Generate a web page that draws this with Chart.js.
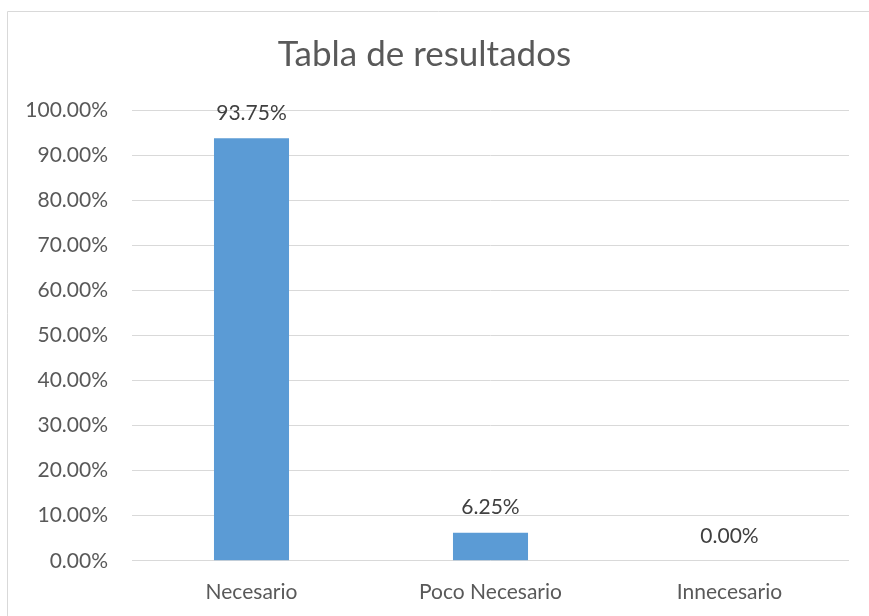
<!DOCTYPE html>
<html>
<head>
<meta charset="utf-8">
<script src="https://cdn.jsdelivr.net/npm/chart.js@4"></script>
<style>
  html, body { margin: 0; background: #fff; overflow: hidden; }
  #wrap { position: absolute; left: 0; top: 0; width: 869px; height: 616px; }
</style>
</head>
<body>
<div id="wrap"><canvas id="chart"></canvas></div>
<script>
const categories = ["Necesario", "Poco Necesario", "Innecesario"];
const values = [0.9375, 0.0625, 0];
const yTicks = [0, 0.1, 0.2, 0.3, 0.4, 0.5, 0.6, 0.7, 0.8, 0.9, 1];

const fmt = v => (v * 100).toFixed(2) + "%";

// labels above the bars
const barLabels = {
  id: "barLabels",
  afterDatasetsDraw(chart) {
    const ctx = chart.ctx;
    const meta = chart.getDatasetMeta(0);
    ctx.save();
    ctx.font = "21px Lato";
    ctx.fillStyle = "#404040";
    ctx.textAlign = "center";
    ctx.textBaseline = "middle";
    meta.data.forEach((bar, i) => {
      ctx.fillText(fmt(values[i]), bar.x, bar.y - 25);
    });
    ctx.restore();
  }
};

// thin chart-area frame (only left and top edges are visible)
const frame = {
  id: "frame",
  beforeDraw(chart) {
    const ctx = chart.ctx;
    ctx.save();
    ctx.strokeStyle = "#d9d9d9";
    ctx.lineWidth = 1;
    ctx.beginPath();
    ctx.moveTo(7.5, chart.height);
    ctx.lineTo(7.5, 11.5);
    ctx.lineTo(chart.width, 11.5);
    ctx.stroke();
    ctx.restore();
  }
};

new Chart(document.getElementById("chart"), {
  type: "bar",
  data: {
    labels: categories,
    datasets: [{
      data: values,
      backgroundColor: "#5b9bd5",
      categoryPercentage: 1,
      barPercentage: 0.314
    }]
  },
  options: {
    responsive: true,
    maintainAspectRatio: false,
    animation: false,
    layout: { padding: { left: 0, right: 20, top: 0, bottom: 0 } },
    plugins: {
      legend: { display: false },
      tooltip: { enabled: false },
      title: {
        display: true,
        text: "Tabla de resultados",
        color: "#595959",
        font: { family: "Lato", size: 35, weight: "normal" },
        padding: { top: 34, bottom: 34 }
      }
    },
    scales: {
      x: {
        grid: { display: false },
        border: { display: false },
        ticks: { color: "#595959", font: { family: "Lato", size: 21 }, padding: 11 }
      },
      y: {
        min: 0,
        max: 1,
        afterBuildTicks(scale) { scale.ticks = yTicks.map(v => ({ value: v })); },
        afterFit(scale) { scale.width = 132; },
        grid: { color: "#d9d9d9", lineWidth: 1, drawTicks: false },
        border: { display: false },
        ticks: { color: "#595959", font: { family: "Lato", size: 21 }, padding: 24, callback: v => fmt(v) }
      }
    }
  },
  plugins: [barLabels, frame]
});
</script>
</body>
</html>
